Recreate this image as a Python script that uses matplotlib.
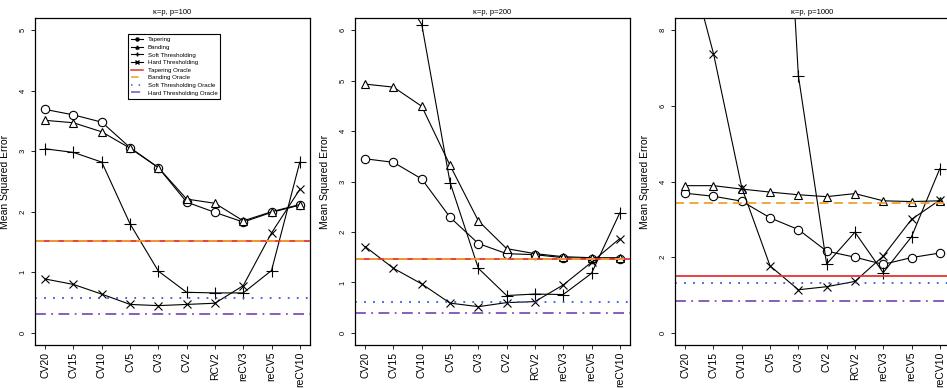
import matplotlib
matplotlib.use("Agg")
import matplotlib.pyplot as plt
from matplotlib.lines import Line2D

plt.rcParams['font.family'] = ['Liberation Sans', 'DejaVu Sans']

methods = ["CV20", "CV15", "CV10", "CV5", "CV3", "CV2", "RCV2", "reCV3", "reCV5", "reCV10"]
titles = ["\u03ba=p, p=100", "\u03ba=p, p=200", "\u03ba=p, p=1000"]
ymax = [5, 6, 8]
ystep = [1, 1, 2]

# p = 100
taper100 = [3.69, 3.60, 3.48, 3.06, 2.73, 2.16, 1.99, 1.83, 1.99, 2.11]
band100 = [3.51, 3.47, 3.32, 3.05, 2.73, 2.21, 2.14, 1.85, 2.00, 2.12]
soft100 = [3.04, 2.98, 2.82, 1.80, 1.02, 0.67, 0.66, 0.66, 1.03, 2.82]
hard100 = [0.89, 0.80, 0.64, 0.47, 0.45, 0.47, 0.49, 0.78, 1.65, 2.37]
oracle100 = [1.52, 1.52, 0.57, 0.31]

# p = 200
taper200 = [3.45, 3.38, 3.05, 2.29, 1.77, 1.57, 1.55, 1.49, 1.47, 1.47]
band200 = [4.93, 4.87, 4.49, 3.32, 2.22, 1.67, 1.57, 1.51, 1.49, 1.49]
soft200 = [7.3, 7.0, 6.11, 2.98, 1.28, 0.74, 0.77, 0.76, 1.18, 2.38]
hard200 = [1.71, 1.28, 0.97, 0.59, 0.52, 0.60, 0.62, 0.95, 1.40, 1.87]
oracle200 = [1.47, 1.47, 0.61, 0.39]

# p = 1000
taper1000 = [3.69, 3.61, 3.48, 3.04, 2.73, 2.16, 2.00, 1.81, 1.99, 2.11]
band1000 = [3.89, 3.89, 3.80, 3.72, 3.65, 3.60, 3.68, 3.49, 3.47, 3.49]
soft1000 = [25.0, 24.0, 22.0, 20.0, 6.80, 1.82, 2.66, 1.59, 2.54, 4.34]
hard1000 = [10.2, 7.38, 3.84, 1.77, 1.14, 1.22, 1.36, 2.03, 3.00, 3.51]
oracle1000 = [1.50, 3.42, 1.32, 0.84]

panels = [
    (taper100, band100, soft100, hard100, oracle100),
    (taper200, band200, soft200, hard200, oracle200),
    (taper1000, band1000, soft1000, hard1000, oracle1000),
]

oracle_names = ["Tapering Oracle", "Banding Oracle", "Soft Thresholding Oracle", "Hard Thresholding Oracle"]
oracle_colors = ["#e63236", "#f0a030", "#3a5ac8", "#8050b8"]
oracle_styles = ["-", (0, (5, 3)), (0, (1, 4)), (0, (6, 3, 1, 3))]

W, H = 947, 388
fig = plt.figure(figsize=(W / 100, H / 100), dpi=100)
lefts = [35, 355, 675]
x = list(range(1, 11))

for i, (tp, bd, sf, hd, orc) in enumerate(panels):
    ax = fig.add_axes([lefts[i] / W, (H - 345) / H, 275 / W, 327 / H])
    kw = dict(color="black", lw=0.8, mew=0.8)
    ax.plot(x, tp, marker="o", mfc="white", ms=6, **kw)
    ax.plot(x, bd, marker="^", mfc="white", ms=6, **kw)
    ax.plot(x, sf, marker="+", ms=9, **kw)
    ax.plot(x, hd, marker="x", ms=6, **kw)
    for j in range(4):
        ax.axhline(orc[j], color=oracle_colors[j], ls=oracle_styles[j], lw=1.3)
    ax.set_xlim(0.64, 10.36)
    ax.set_ylim(-0.04 * ymax[i], ymax[i] * 1.04)
    ax.set_yticks(range(0, ymax[i] + 1, ystep[i]))
    ax.set_xticks(x)
    ax.set_xticklabels(methods, rotation=90, fontsize=7.5)
    ax.tick_params(axis="x", length=3, width=0.6, pad=2)
    ax.tick_params(axis="y", length=3, width=0.6, labelsize=5.5, labelrotation=90, pad=3)
    for lab in ax.get_yticklabels():
        lab.set_va("center")
    for s in ax.spines.values():
        s.set_linewidth(0.9)
    ax.set_title(titles[i], fontsize=5.5, pad=3)
    ax.set_ylabel("Mean Squared Error", fontsize=7.5)
    ax.yaxis.set_label_coords(-0.091, 0.5)

    if i == 0:
        handles = [
            Line2D([], [], color="black", lw=0.8, marker="o", ms=2.2),
            Line2D([], [], color="black", lw=0.8, marker="^", ms=2.2),
            Line2D([], [], color="black", lw=0.8, marker="+", ms=3.5),
            Line2D([], [], color="black", lw=0.8, marker="x", ms=2.5),
        ]
        for j in range(4):
            handles.append(Line2D([], [], color=oracle_colors[j], ls=oracle_styles[j], lw=1.1))
        names = ["Tapering", "Banding", "Soft Thresholding", "Hard Thresholding"] + oracle_names
        leg = ax.legend(handles, names, loc="upper left", bbox_to_anchor=(0.338, 0.951),
                        fontsize=4.4, frameon=True, fancybox=False, edgecolor="black",
                        framealpha=1, borderaxespad=0, handlelength=2.0, labelspacing=0.38,
                        borderpad=0.5, handletextpad=0.7)
        leg.get_frame().set_linewidth(0.8)

fig.savefig("out.png", dpi=100)
